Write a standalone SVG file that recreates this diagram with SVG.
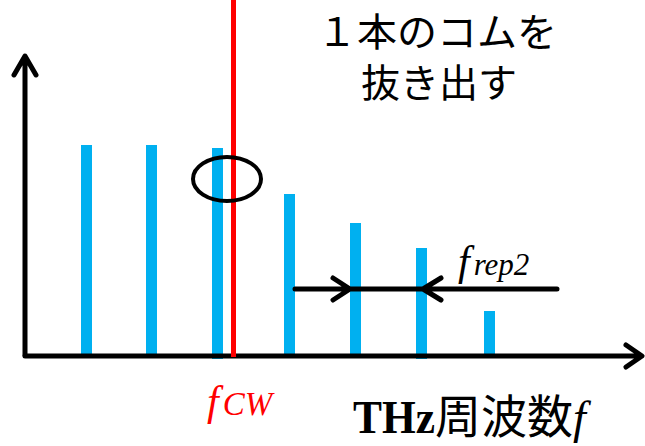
<svg xmlns="http://www.w3.org/2000/svg" width="645" height="446" viewBox="0 0 645 446">
<style>
.bar{fill:#00B0F0}
.ax{stroke:#000;stroke-width:5;fill:none;stroke-linecap:round;stroke-linejoin:round}
.jp{font-family:"Noto Sans CJK JP","Noto Sans",sans-serif;font-size:39px;fill:#000;text-anchor:middle}
.mi{font-family:"Liberation Serif",serif;font-style:italic}
</style>
<rect width="645" height="446" fill="#fff"/>
<g id="bars">
<rect class="bar" x="81" y="145" width="11" height="211"/>
<rect class="bar" x="146" y="145" width="11" height="211"/>
<rect class="bar" x="212" y="148" width="11" height="211"/>
<rect class="bar" x="284" y="194" width="11" height="162"/>
<rect class="bar" x="350" y="223" width="11" height="133"/>
<rect class="bar" x="416" y="248" width="11" height="111"/>
<rect class="bar" x="484" y="311" width="11" height="45"/>
</g>
<g id="connectors">
<path class="ax" d="M25,355 V57 M14,75 L25,56 L36,75"/>
<path class="ax" d="M25,356 H640 M626,345 L642,356 L626,367"/>
<path class="ax" d="M295,289 H557 M333,278 L350,289 L333,300 M441,278 L423,289 L441,300"/>
</g>
<g id="cw">
<rect x="231" y="0" width="5" height="357" fill="#FF0000"/>
</g>
<g id="ellipse">
<ellipse cx="227" cy="179" rx="34" ry="22" fill="none" stroke="#000" stroke-width="4"/>
</g>
<g id="title">
<text class="jp" x="437" y="46" textLength="240" lengthAdjust="spacingAndGlyphs">１本のコムを</text>
<text class="jp" x="439" y="97">抜き出す</text>
</g>
<g id="frep">
<text class="mi" x="458" y="275" font-size="42">f<tspan font-size="31" dx="4">rep2</tspan></text>
</g>
<g id="fcw">
<text class="mi" x="207" y="415" font-size="42" fill="#FF0000">f<tspan font-size="33" dx="4">CW</tspan></text>
</g>
<g id="xlabel">
<text x="353" y="433" font-size="46"><tspan font-family="Liberation Serif,serif" font-weight="bold" textLength="82" lengthAdjust="spacingAndGlyphs">THz</tspan><tspan font-family="Noto Sans CJK JP,sans-serif" font-size="46">周波数</tspan><tspan font-family="Liberation Serif,serif" font-style="italic">f</tspan></text>
</g>
</svg>
